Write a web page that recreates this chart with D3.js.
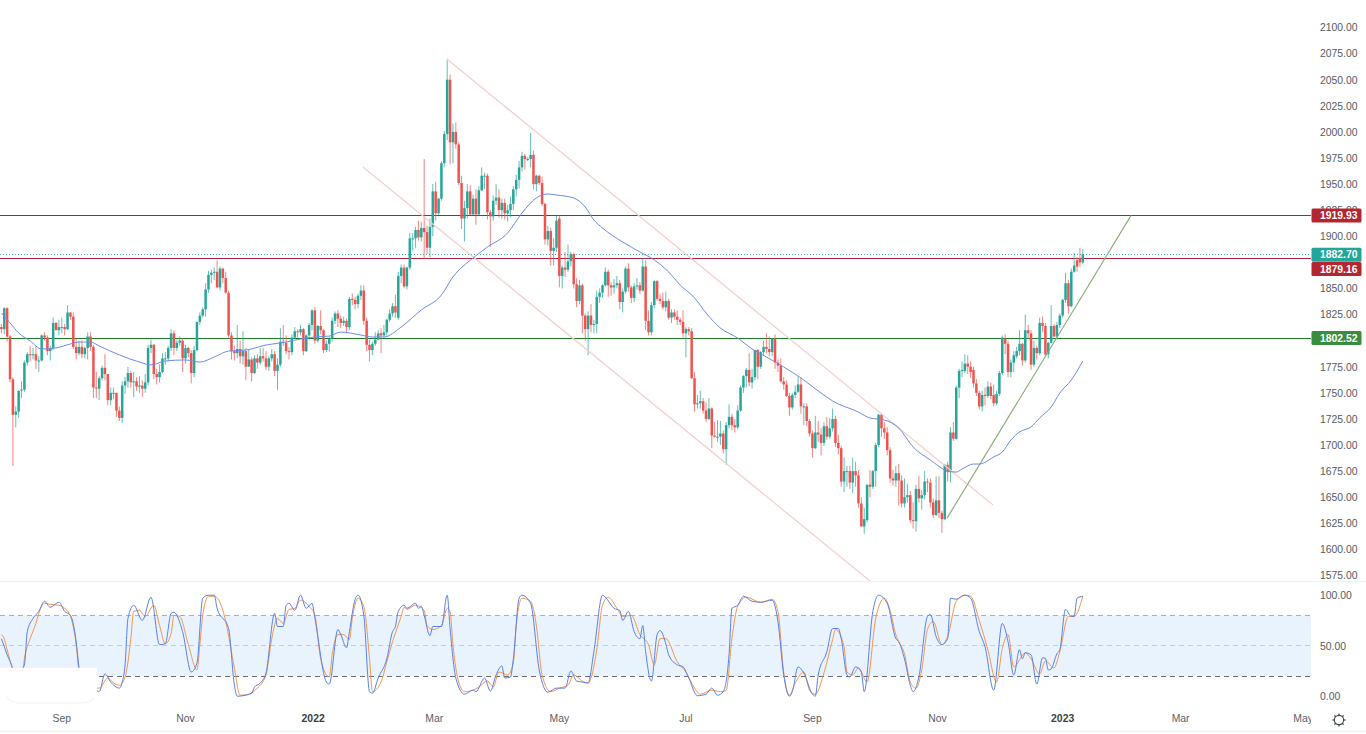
<!DOCTYPE html>
<html><head><meta charset="utf-8">
<script src="https://cdn.jsdelivr.net/npm/d3@7"></script>
<style>html,body{margin:0;padding:0;background:#fff;overflow:hidden}svg{display:block}text{font-family:"Liberation Sans",Arial,sans-serif}</style>
</head><body><svg id="c" width="1366" height="734"></svg>
<script>
// Daily candles, one row per calendar month (Aug 2021 .. Jan 2023)
const opens = [
1813,1811,1831,1804,1763,1729,1732,1752,1753,1779,1787,1786,1787,1781,1781,1805,1803,1790,1793,1817,1810,
1813,1813,1811,1827,1823,1794,1788,1794,1787,1793,1804,1794,1755,1754,1764,1774,1768,1743,1750,1750,1733,1726,
1757,1761,1769,1760,1761,1756,1757,1754,1760,1793,1796,1768,1765,1770,1783,1783,1793,1807,1793,1798,1800,
1783,1793,1788,1769,1791,1818,1824,1830,1849,1863,1865,1866,1851,1869,1860,1846,1805,1790,1788,1792,1785,1790,
1775,1782,1769,1783,1779,1785,1783,1775,1783,1787,1771,1777,1799,1798,1790,1789,1803,1809,1808,1811,1790,1805,1815,
1829,1800,1814,1810,1791,1797,1802,1819,1826,1821,1817,1819,1813,1840,1839,1835,1843,1848,1819,1796,1791,
1797,1801,1807,1805,1808,1820,1826,1833,1822,1862,1870,1852,1870,1898,1898,1906,1899,1908,1904,1889,
1909,1943,1922,1936,1970,1998,2050,1990,2000,1988,1951,1917,1927,1943,1921,1936,1921,1944,1958,1958,1923,1919,1934,
1937,1925,1932,1922,1925,1931,1945,1954,1966,1977,1974,1974,1978,1950,1958,1951,1931,1897,1905,1886,1889,
1917,1862,1870,1868,1876,1883,1854,1838,1853,1824,1811,1824,1815,1816,1842,1846,1853,1866,1853,1851,1853,1855,
1837,1847,1869,1851,1841,1852,1853,1848,1871,1819,1808,1834,1857,1840,1838,1832,1838,1822,1827,1823,1820,1818,
1807,1811,1809,1764,1739,1740,1742,1733,1725,1735,1709,1708,1708,1711,1696,1719,1727,1719,1717,1733,1755,
1766,1772,1760,1765,1791,1775,1789,1794,1792,1789,1802,1779,1776,1761,1758,1747,1736,1748,1751,1758,1737,1737,1723,
1711,1697,1712,1710,1702,1718,1708,1716,1725,1702,1697,1665,1675,1675,1664,1675,1671,1644,1622,1628,1662,1660,
1675,1700,1729,1716,1712,1695,1668,1666,1673,1666,1644,1650,1652,1628,1627,1658,1649,1652,1665,1664,1645,
1633,1647,1635,1629,1681,1674,1712,1706,1755,1771,1771,1778,1775,1772,1759,1750,1737,1748,1747,1756,1748,1740,1749,
1769,1802,1797,1770,1779,1785,1790,1797,1781,1810,1807,1777,1793,1788,1817,1814,1787,1798,1814,1804,1815,
1824,1839,1855,1833,1866,1877,1879,1875];
const highs = [
1816,1832,1832,1805,1765,1737,1752,1761,1781,1789,1795,1793,1795,1785,1806,1808,1805,1795,1822,1818,1820,
1822,1816,1834,1827,1827,1802,1800,1800,1794,1808,1808,1796,1770,1766,1776,1787,1768,1755,1755,1750,1737,1761,
1765,1775,1771,1770,1765,1766,1762,1768,1796,1801,1797,1773,1777,1788,1789,1795,1811,1810,1801,1804,1802,
1796,1794,1791,1795,1818,1827,1832,1855,1867,1868,1870,1877,1871,1870,1866,1848,1808,1795,1815,1800,1809,1793,
1792,1784,1786,1787,1793,1793,1790,1785,1792,1790,1783,1812,1815,1805,1794,1806,1813,1811,1815,1812,1806,1817,1830,
1832,1815,1829,1811,1800,1804,1822,1828,1829,1824,1823,1821,1842,1845,1842,1845,1853,1853,1822,1801,1799,
1808,1810,1812,1815,1821,1830,1836,1844,1866,1873,1873,1871,1903,1903,1909,1915,1914,1974,1910,1917,
1950,1952,1937,1972,2001,2070,2055,2008,2009,1990,1958,1934,1950,1949,1940,1945,1948,1966,1961,1960,1925,1939,1950,
1945,1936,1936,1930,1938,1948,1959,1972,1981,1979,1976,1999,1982,1959,1959,1957,1932,1910,1908,1898,1920,
1920,1872,1885,1892,1885,1884,1860,1858,1855,1826,1828,1835,1820,1848,1850,1854,1870,1868,1856,1859,1862,1858,
1850,1871,1874,1853,1855,1860,1856,1879,1877,1829,1837,1858,1858,1845,1846,1847,1840,1830,1830,1829,1822,1829,
1813,1813,1812,1770,1748,1752,1745,1741,1745,1736,1722,1724,1723,1714,1722,1739,1730,1725,1738,1757,1767,
1774,1788,1773,1791,1792,1790,1800,1807,1804,1802,1806,1782,1783,1765,1762,1750,1750,1757,1765,1765,1740,1740,1725,
1714,1728,1723,1716,1722,1727,1726,1735,1728,1710,1699,1688,1680,1680,1688,1684,1676,1650,1640,1662,1676,1676,
1702,1730,1730,1722,1717,1698,1676,1680,1682,1671,1668,1663,1656,1645,1662,1670,1657,1675,1668,1668,1649,
1670,1670,1637,1682,1684,1717,1722,1757,1773,1780,1787,1786,1780,1775,1763,1752,1752,1755,1761,1760,1758,1752,1771,
1805,1806,1800,1782,1790,1794,1810,1798,1825,1815,1810,1800,1795,1822,1823,1817,1799,1834,1816,1818,1826,
1840,1865,1858,1869,1884,1880,1889,1888];
const lows = [
1807,1806,1799,1760,1680,1717,1726,1745,1751,1776,1780,1782,1773,1770,1780,1800,1786,1781,1791,1810,1805,
1807,1805,1810,1820,1792,1782,1786,1783,1783,1782,1790,1745,1745,1743,1762,1762,1738,1738,1744,1727,1723,1721,
1749,1755,1755,1746,1752,1750,1746,1750,1757,1788,1763,1758,1760,1769,1777,1780,1790,1786,1790,1795,1770,
1778,1784,1759,1765,1790,1815,1822,1823,1846,1855,1858,1850,1848,1855,1845,1803,1782,1781,1783,1778,1777,1762,
1775,1761,1768,1773,1777,1780,1772,1771,1780,1766,1753,1775,1795,1787,1782,1786,1802,1803,1805,1786,1789,1801,1810,
1797,1798,1806,1788,1789,1790,1799,1816,1813,1812,1814,1807,1810,1834,1830,1831,1839,1815,1790,1780,1786,
1795,1800,1788,1803,1805,1818,1823,1822,1820,1855,1850,1849,1868,1886,1889,1896,1895,1878,1883,1880,
1900,1915,1920,1934,1966,1992,1969,1970,1984,1949,1907,1895,1917,1920,1920,1911,1920,1943,1945,1916,1890,1915,1930,
1918,1917,1916,1914,1918,1925,1938,1946,1962,1964,1972,1966,1945,1943,1949,1929,1892,1891,1872,1872,1885,
1851,1850,1861,1866,1871,1850,1832,1835,1807,1800,1786,1808,1807,1807,1836,1841,1852,1842,1843,1845,1850,1830,
1827,1845,1847,1836,1837,1849,1845,1847,1810,1805,1805,1831,1838,1835,1830,1828,1820,1817,1820,1815,1815,1803,
1784,1805,1763,1732,1735,1735,1730,1722,1724,1697,1707,1703,1700,1692,1681,1716,1714,1712,1715,1732,1750,
1755,1756,1754,1762,1763,1773,1786,1788,1785,1785,1773,1770,1760,1753,1746,1728,1734,1745,1750,1730,1719,1718,1708,
1688,1696,1703,1690,1699,1705,1706,1713,1698,1691,1660,1655,1660,1658,1654,1660,1640,1622,1615,1626,1650,1658,
1660,1698,1708,1706,1690,1664,1661,1660,1642,1640,1640,1645,1625,1620,1617,1645,1638,1648,1655,1640,1630,
1632,1630,1616,1628,1665,1664,1704,1705,1745,1765,1769,1768,1764,1755,1747,1734,1732,1738,1745,1744,1737,1738,1747,
1767,1787,1765,1765,1770,1783,1786,1776,1779,1802,1772,1775,1782,1786,1808,1785,1783,1797,1803,1802,1812,
1822,1836,1826,1832,1865,1866,1871,1873];
const closes = [
1811,1831,1804,1763,1729,1732,1752,1753,1779,1787,1786,1787,1781,1781,1805,1803,1790,1793,1817,1810,1813,
1813,1811,1827,1823,1794,1788,1794,1787,1793,1804,1794,1755,1754,1764,1774,1768,1743,1750,1750,1733,1726,1757,
1761,1769,1760,1761,1756,1757,1754,1760,1793,1796,1768,1765,1770,1783,1783,1793,1807,1793,1798,1800,1783,
1793,1788,1769,1791,1818,1824,1830,1849,1863,1865,1866,1851,1869,1860,1846,1805,1790,1788,1792,1785,1790,1775,
1782,1769,1783,1779,1785,1783,1775,1783,1787,1771,1777,1799,1798,1790,1789,1803,1809,1808,1811,1790,1805,1815,1829,
1800,1814,1810,1791,1797,1802,1819,1826,1821,1817,1819,1813,1840,1839,1835,1843,1848,1819,1796,1791,1797,
1801,1807,1805,1808,1820,1826,1833,1827,1862,1870,1852,1870,1898,1898,1906,1899,1908,1904,1889,1909,
1943,1922,1936,1970,1998,2050,1990,2000,1988,1951,1917,1927,1943,1921,1936,1921,1944,1958,1958,1923,1919,1934,1937,
1925,1932,1922,1925,1931,1945,1954,1966,1977,1974,1974,1978,1950,1958,1951,1931,1897,1905,1886,1889,1915,
1862,1870,1868,1876,1883,1854,1838,1853,1824,1811,1824,1815,1816,1842,1846,1853,1866,1853,1851,1853,1855,1837,
1847,1869,1851,1841,1852,1853,1848,1871,1819,1808,1834,1857,1840,1838,1832,1838,1822,1827,1823,1820,1818,1807,
1811,1809,1764,1739,1740,1742,1733,1725,1735,1709,1708,1708,1711,1696,1719,1727,1719,1717,1733,1755,1766,
1772,1760,1765,1791,1775,1789,1794,1792,1789,1802,1779,1776,1761,1758,1747,1736,1748,1751,1758,1737,1737,1723,1711,
1697,1712,1710,1702,1718,1708,1716,1725,1702,1697,1665,1675,1675,1664,1675,1671,1644,1622,1629,1662,1660,1675,
1700,1729,1716,1712,1695,1668,1666,1673,1666,1644,1650,1652,1628,1627,1658,1649,1652,1665,1664,1645,1633,
1647,1635,1629,1681,1674,1712,1706,1755,1771,1772,1778,1775,1770,1759,1750,1737,1748,1747,1756,1747,1740,1749,1769,
1803,1797,1770,1779,1786,1790,1797,1781,1810,1807,1777,1793,1788,1817,1814,1787,1798,1814,1804,1815,1824,
1839,1855,1833,1866,1872,1871,1875,1882.7];

// Moving average, read at bar positions
const maBars = [0,3,6,10,14,19,24,27,31,34,41,48,52,57,64,69,74,79,85,92,99,104,109,114,118,125,129,133,139,146,153,157,164,169,176,181,186,190,193,199,203,206,209,216,222,227,232,236,241,245,250,256,261,266,272,278,285,289,298,302,307,312,317,323,329,332,334,338,340,345,348,351,354,358,361,365,368,372,376];
const maValues = [1826.5,1817,1807.3,1799.7,1792,1793,1796.8,1798.7,1798.7,1794.9,1786.3,1779.5,1776.7,1780.5,1781.5,1779.5,1784.3,1790,1791,1795.8,1798.7,1801.6,1803.5,1804.4,1808.2,1805.4,1803.5,1803.5,1813,1829.4,1843.7,1861,1879.2,1889.7,1903.1,1922.3,1936.7,1940.5,1939.5,1936.7,1928,1915.6,1907.9,1894.5,1885,1877.3,1865.8,1853.3,1841,1826.5,1812.1,1802.5,1792,1784.3,1774.8,1764.2,1749.8,1742.2,1731.6,1725.9,1724,1716.3,1698.1,1685.7,1675.1,1674.1,1677,1681.8,1681.8,1688.5,1693.3,1704.8,1712.5,1717.3,1725.9,1736.4,1749.8,1762.3,1780.5];

// Stochastic %K and %D
const kBars = [0,1,2,4,5,6,7,8,9,11,13,15,17,20,22,24,26,27,28,30,32,33,34,36,38,41,42,43,44,46,49,52,55,57,59,60,63,66,68,70,72,74,75,79,81,82,84,87,88,90,92,95,96,98,99,100,102,104,106,108,109,113,114,117,118,120,121,123,124,126,128,129,131,134,136,137,138,140,141,144,145,146,147,149,150,153,155,156,158,161,164,165,168,170,172,174,175,177,178,180,181,184,187,190,193,196,198,200,202,204,206,209,210,213,215,216,218,220,222,223,224,226,228,229,231,232,235,237,239,242,245,247,249,251,253,254,256,258,261,264,268,270,272,274,275,277,279,282,283,284,287,289,291,292,294,295,297,299,300,303,305,308,311,312,314,316,317,319,322,323,325,327,329,330,332,335,337,340,342,345,348,350,352,354,355,356,358,360,362,363,364,365,367,368,370,372,373,374,376];
const kValues = [57,49,41,26,12,8,26,31,64,77,84,94,88,93,84,80,54,28,12,8,8,6,4.5,22,14,8,14,31,77,90,75,98,51,52,82,83,64,24,33,97,100,100,87,67,11,0,0.5,3,9,13,23,82,69,69,90,92,85,100,87,92,77,14,12,66,61,48,64,96,100,80,4.5,3,18,37,64,69,84,90,87,92,87,89,80,60,69,69,100,67,18,2,6,4.5,18,5,21,30,18,19,37,97,100,92,26,4,8,8,25,15,14,13,44,100,98,87,85,75,84,64,57,70,44,15,61,65,52,41,31,29,18,0.5,2,8,1,4.5,41,87,90,99,94,93,95,74,21,0,4.5,29,23,2,0,21,44,67,67,57,21,19,29,24,4.5,84,100,92,57,54,37,11,4.5,19,79,81,59,51,57,97,96,100,97,64,49,6,72,54,21,46,37,43,41,12,38,37.5,26,27,42,46,86,79,79,97,99];
const dBars = [0,1,2,4,6,7,8,10,12,13,15,17,20,22,24,26,27,29,32,34,37,39,41,43,45,46,48,50,53,55,57,59,60,62,65,68,69,70,72,74,77,78,81,83,86,89,92,94,96,98,100,102,104,107,109,111,114,115,117,119,121,122,124,126,128,129,132,134,136,139,140,141,144,147,148,150,153,155,156,157,159,161,164,166,169,171,173,176,178,179,181,184,186,188,191,194,197,199,202,204,207,209,211,214,216,219,222,225,227,229,231,235,238,241,243,247,250,252,254,256,259,264,268,270,272,274,276,279,281,283,286,289,290,293,294,296,298,301,304,307,309,311,312,314,316,318,320,322,324,327,329,332,335,337,340,343,346,348,350,352,356,358,361,363,366,368,371,373,376];
const dValues = [61,57,46,26,12,15,37,57,72,82,92,91,90,87,79,51,24,12,8,8,18,13,11,19,57,84,85,79,90,70,52,62,80,79,51,26,51,80,99,99,85,74,28,1,2,8,21,57,77,72,86,87,95,89,80,37,19,41,61,61,56,77,97,89,37,4.5,14,34,54,79,88,86,90,85,70,66,70,87,84,51,14,4.5,6,9,15,9,24,21,33,70,97,94,70,21,4.5,8,11,21,15,13,46,90,98,87,79,80,61,51,31,57,57,34,24,8,2,6,4.5,6,57,89,98,93,96,84,24,1,13,24,6,2,23,56,66,49,24,21,28,14,77,97,85,61,54,42,14,8,26,66,74,51,59,94,100,99,75,46,14,47,61,29,43,37,22,35,28,44,79,79,99];

// Axes
const priceTicks = d3.range(1575,2125,25).filter(v=>v!==1800&&v!==1875);
const stochTicks = [0,50,100];
const timeTicks = [
 {bar:21,label:"Sep"},{bar:64,label:"Nov"},{bar:108.4,label:"2022",strong:true},{bar:150.5,label:"Mar"},
 {bar:194,label:"May"},{bar:238,label:"Jul"},{bar:282,label:"Sep"},{bar:325.5,label:"Nov"},
 {bar:369,label:"2023",strong:true},{bar:410,label:"Mar"},{bar:452.6,label:"May"}];
const levels = [
 {price:1919.93,label:"1919.93",color:"#a8233a",box:"#b3262f",dy:0},
 {price:1879.16,label:"1879.16",color:"#a8233a",box:"#b3262f",dy:11},
 {price:1802.52,label:"1802.52",color:"#1f7a2a",box:"#388e3c",dy:0}];
const lastPrice = {price:1882.70,label:"1882.70",box:"#22a699"};
// Drawn tool lines: [bar, price] end points
const channelUpper = [[154.9,2069.8],[344.8,1642.6]];
const channelLower = [[125.7,1966.4],[302,1569.8]];
const supportLine  = [[328.8,1630],[392.8,1920]];
const stochLevels = [{v:80,c:"#aeb0b5"},{v:50,c:"#c9cbcf"},{v:20,c:"#6a6d75"}];

const svg = d3.select("#c");
const W=1311, PH=581;
const x = d3.scaleLinear([0,376],[1.4,1082.8]);
const y = d3.scaleLinear([1575,2100],[575.5,27.5]);
const ys = d3.scaleLinear([0,100],[696.2,595.2]);
const snap = v=>Math.round(v-0.5)+0.5;
const defs = svg.append("defs");
defs.append("clipPath").attr("id","pa").append("rect").attr("width",W).attr("height",PH);
defs.append("clipPath").attr("id","ta").append("rect").attr("y",700).attr("width",W).attr("height",34);
const main = svg.append("g").attr("clip-path","url(#pa)");

// horizontal levels
main.append("line").attr("x1",0).attr("x2",W).attr("y1",snap(y(lastPrice.price))).attr("y2",snap(y(lastPrice.price))).attr("stroke","#3aa89e").attr("stroke-width",1).attr("stroke-dasharray","1 2");
levels.forEach(l=>main.append("line").attr("x1",0).attr("x2",W).attr("y1",snap(y(l.price))).attr("y2",snap(y(l.price))).attr("stroke",l.color).attr("stroke-width",1));

// candles
const bars = closes.map((c,i)=>({i,o:opens[i],h:highs[i],l:lows[i],c}));
const col = d=>d.c>=d.o?"#26a69a":"#ef5350";
main.append("g").selectAll("line").data(bars).join("line")
 .attr("x1",d=>x(d.i)).attr("x2",d=>x(d.i)).attr("y1",d=>y(d.h)).attr("y2",d=>y(d.l))
 .attr("stroke",col).attr("stroke-width",1).attr("stroke-opacity",.72);
main.append("g").selectAll("rect").data(bars).join("rect")
 .attr("x",d=>x(d.i)-1.25).attr("width",2.5)
 .attr("y",d=>y(Math.max(d.o,d.c))).attr("height",d=>Math.max(1,Math.abs(y(d.o)-y(d.c))))
 .attr("fill",col);

// tool lines
const toolLine = d3.line().x(d=>x(d[0])).y(d=>y(d[1]));
[channelUpper,channelLower].forEach(p=>main.append("path").attr("d",toolLine(p)).attr("fill","none").attr("stroke","#f6cfcb").attr("stroke-width",1.3));
main.append("path").attr("d",toolLine(supportLine)).attr("fill","none").attr("stroke","#86ac76").attr("stroke-width",1.1);

// moving average
main.append("path").attr("d",d3.line().x((d,i)=>x(maBars[i])).y(d=>y(d)).curve(d3.curveMonotoneX)(maValues))
 .attr("fill","none").attr("stroke","#6c8ce6").attr("stroke-width",1);

// stochastic pane
svg.append("rect").attr("x",0).attr("width",W).attr("y",ys(80)).attr("height",ys(20)-ys(80)).attr("fill","#e8f3fd");
stochLevels.forEach(s=>svg.append("line").attr("x1",0).attr("x2",W).attr("y1",snap(ys(s.v))).attr("y2",snap(ys(s.v))).attr("stroke",s.c).attr("stroke-width",1).attr("stroke-dasharray","5 4"));
const stochPath=(b,v,c)=>svg.append("path").attr("d",d3.line().x((d,i)=>x(b[i])).y(d=>ys(d)).curve(d3.curveMonotoneX)(v)).attr("fill","none").attr("stroke",c).attr("stroke-width",1);
stochPath(dBars,dValues,"#f2964f");
stochPath(kBars,kValues,"#5a80e8");

// white cover bottom-left
const cp=d3.path();cp.moveTo(0,667.7);cp.lineTo(97,667.7);cp.lineTo(97,690);cp.quadraticCurveTo(96,703,82,703);cp.lineTo(18,703);cp.quadraticCurveTo(7,703,0,693);cp.closePath();
svg.append("path").attr("d",cp.toString()).attr("fill","#fff");
const cb=d3.path();cb.moveTo(7,697);cb.quadraticCurveTo(11,703,18,703);cb.lineTo(82,703);cb.quadraticCurveTo(90,703,94,698);
svg.append("path").attr("d",cb.toString()).attr("fill","none").attr("stroke","#f1f1f3").attr("stroke-width",1.2);

// dividers
[581.5,731.5].forEach(v=>svg.append("line").attr("x1",0).attr("x2",1366).attr("y1",v).attr("y2",v).attr("stroke","#f0f1f3").attr("stroke-width",1.5));

// right axes
const axText=(sel)=>sel.attr("font-size",10.4).attr("fill","#555a63");
const pa=svg.append("g").attr("transform","translate(1320,0)").call(d3.axisRight(y).tickValues(priceTicks).tickSize(0).tickPadding(0).tickFormat(d3.format(".2f")));
pa.select(".domain").remove();axText(pa.selectAll("text"));pa.attr("font-family",null);
const sa=svg.append("g").attr("transform","translate(1320,0)").call(d3.axisRight(ys).tickValues(stochTicks).tickSize(0).tickPadding(0).tickFormat(d3.format(".2f")));
sa.select(".domain").remove();axText(sa.selectAll("text"));sa.attr("font-family",null);

// price boxes
const box=(p,label,c,dy)=>{const cy=y(p)+dy;
 svg.append("rect").attr("x",1311.5).attr("y",cy-7).attr("width",50).attr("height",14).attr("rx",1.5).attr("fill",c);
 svg.append("text").attr("x",1320).attr("y",cy+3.7).attr("font-size",10.4).attr("font-weight",700).attr("fill","#fff").text(label);};
box(levels[0].price,levels[0].label,levels[0].box,0);
box(lastPrice.price,lastPrice.label,lastPrice.box,0.4);
box(levels[1].price,levels[1].label,levels[1].box,levels[1].dy);
box(levels[2].price,levels[2].label,levels[2].box,0);

// time axis
svg.append("g").attr("clip-path","url(#ta)").selectAll("text").data(timeTicks).join("text")
 .attr("x",d=>x(d.bar)).attr("y",722).attr("text-anchor","middle").attr("font-size",10.4)
 .attr("font-weight",d=>d.strong?700:400).attr("fill",d=>d.strong?"#3c3f46":"#5a5e66").text(d=>d.label);

// settings gear
const gear=svg.append("g").attr("transform","translate(1339,720)").attr("stroke","#3d4048").attr("fill","none");
gear.append("circle").attr("r",4.6).attr("stroke-width",1.1);
gear.selectAll("line").data(d3.range(0,360,45)).join("line").attr("x1",4.6).attr("x2",6.6).attr("transform",d=>`rotate(${d})`).attr("stroke-width",1.2);
</script></body></html>
